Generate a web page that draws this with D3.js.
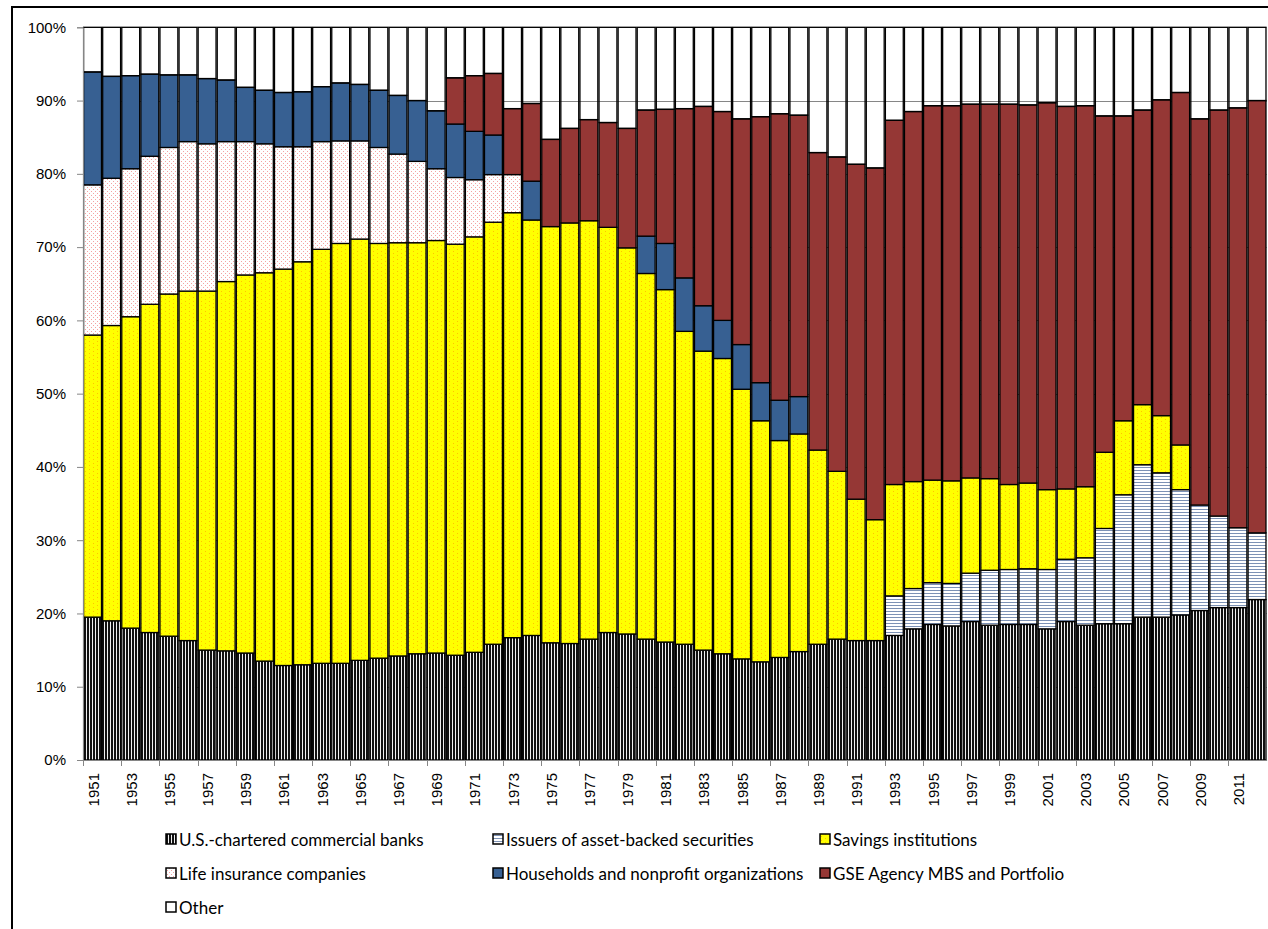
<!DOCTYPE html>
<html>
<head>
<meta charset="utf-8">
<script src="https://cdn.jsdelivr.net/npm/d3@7"></script>
<style>
  body { margin: 0; background: #fff; }
  svg { display: block; font-family: Lato, "Open Sans", sans-serif; }
  .eje text { font-size: 15px; fill: #000; }
  .leyenda text { font-size: 17px; fill: #000; }
</style>
</head>
<body>
<script>
// years (categories)
var years = [1951,1952,1953,1954,1955,1956,1957,1958,1959,1960,
  1961,1962,1963,1964,1965,1966,1967,1968,1969,1970,
  1971,1972,1973,1974,1975,1976,1977,1978,1979,1980,
  1981,1982,1983,1984,1985,1986,1987,1988,1989,1990,
  1991,1992,1993,1994,1995,1996,1997,1998,1999,2000,
  2001,2002,2003,2004,2005,2006,2007,2008,2009,2010,
  2011,2012];

// shares in %, bottom to top
var banks = [19.5,19.0,18.0,17.4,16.9,16.3,15.0,14.9,14.6,13.5,
  12.9,13.0,13.2,13.2,13.6,13.9,14.2,14.5,14.6,14.3,
  14.7,15.8,16.7,17.0,16.0,15.9,16.5,17.4,17.2,16.5,
  16.1,15.8,15.0,14.5,13.8,13.4,14.0,14.8,15.8,16.5,
  16.3,16.3,17.0,17.9,18.5,18.3,18.9,18.4,18.5,18.5,
  17.9,18.9,18.4,18.6,18.6,19.5,19.5,19.8,20.4,20.8,
  20.8,21.9];
var absIssuers = [0,0,0,0,0,0,0,0,0,0,
  0,0,0,0,0,0,0,0,0,0,
  0,0,0,0,0,0,0,0,0,0,
  0,0,0,0,0,0,0,0,0,0,
  0,0,5.4,5.5,5.7,5.8,6.6,7.5,7.5,7.6,
  8.1,8.5,9.2,13.0,17.6,20.8,19.7,17.1,14.4,12.5,
  10.9,9.1];
var savings = [38.5,40.3,42.5,44.8,46.7,47.7,49.0,50.4,51.6,53.0,
  54.1,55.0,56.5,57.3,57.5,56.6,56.4,56.1,56.3,56.1,
  56.7,57.6,58.0,56.7,56.8,57.4,57.1,55.3,52.7,49.9,
  48.1,42.7,40.8,40.3,36.8,32.9,29.6,29.7,26.5,22.9,
  19.3,16.5,15.2,14.6,14.0,14.0,13.0,12.5,11.6,11.7,
  10.9,9.6,9.7,10.4,10.1,8.2,7.8,6.1,0,0,
  0,0];
var lifeIns = [20.5,20.1,20.2,20.2,20.0,20.4,20.1,19.1,18.2,17.6,
  16.7,15.7,14.7,14.0,13.4,13.1,12.1,11.1,9.8,9.1,
  7.8,6.5,5.2,0,0,0,0,0,0,0,
  0,0,0,0,0,0,0,0,0,0,
  0,0,0,0,0,0,0,0,0,0,
  0,0,0,0,0,0,0,0,0,0,
  0,0];
var households = [15.4,13.9,12.7,11.2,9.9,9.1,8.9,8.4,7.4,7.3,
  7.4,7.5,7.5,7.9,7.7,7.8,8.0,8.3,7.9,7.3,
  6.6,5.4,0,5.3,0,0,0,0,0,5.1,
  6.3,7.3,6.2,5.2,6.1,5.2,5.5,5.1,0,0,
  0,0,0,0,0,0,0,0,0,0,
  0,0,0,0,0,0,0,0,0,0,
  0,0];
var gse = [0,0,0,0,0,0,0,0,0,0,
  0,0,0,0,0,0,0,0,0,6.3,
  7.6,8.4,9.0,10.6,11.9,12.9,13.8,14.3,16.3,17.2,
  18.3,23.1,27.2,28.5,30.8,36.3,39.1,38.4,40.6,42.9,
  45.7,48.0,49.7,50.5,51.1,51.2,51.0,51.1,51.9,51.6,
  52.8,52.2,52.0,45.9,41.6,40.2,43.1,48.1,52.7,55.4,
  57.3,59.0];
var other = [6.1,6.7,6.6,6.4,6.5,6.5,7.0,7.2,8.2,8.6,
  8.9,8.8,8.1,7.6,7.8,8.6,9.3,10.0,11.4,6.9,
  6.6,6.3,11.1,10.4,15.3,13.8,12.6,13.0,13.8,11.3,
  11.2,11.1,10.8,11.5,12.5,12.2,11.8,12.0,17.1,17.7,
  18.7,19.2,12.7,11.5,10.7,10.7,10.5,10.5,10.5,10.6,
  10.3,10.8,10.7,12.1,12.1,11.3,9.9,8.9,12.5,11.3,
  11.0,10.0];

var seriesNames = ['U.S.-chartered commercial banks', 'Issuers of asset-backed securities',
  'Savings institutions', 'Life insurance companies', 'Households and nonprofit organizations',
  'GSE Agency MBS and Portfolio', 'Other'];
var yTicks = [0,10,20,30,40,50,60,70,80,90,100];

var anchoSvg = 1268, altoSvg = 929;
var margen = {izq: 83, sup: 27.3, inf: 760};
var paso = 19.09;
var derecha = margen.izq + paso * years.length;

var series = [banks, absIssuers, savings, lifeIns, households, gse, other];
var tabla = years.map(function (y, i) {
  var fila = {year: y};
  seriesNames.forEach(function (n, k) { fila[n] = series[k][i]; });
  return fila;
});

var pila = d3.stack().keys(seriesNames).offset(d3.stackOffsetExpand)(tabla);

var escalaX = d3.scaleBand().domain(years).range([margen.izq, derecha]).padding(0);
var escalaY = d3.scaleLinear().domain([0, 1]).range([margen.inf, margen.sup]);

var svg = d3.select('body').append('svg').attr('width', anchoSvg).attr('height', altoSvg);

// patterns
var defs = svg.append('defs');
var pBanks = defs.append('pattern').attr('id', 'p0').attr('patternUnits', 'userSpaceOnUse')
  .attr('width', 3).attr('height', 3);
pBanks.append('rect').attr('width', 3).attr('height', 3).attr('fill', '#111');
pBanks.append('rect').attr('x', 2).attr('width', 1).attr('height', 3).attr('fill', '#f0f0f0');

var pAbs = defs.append('pattern').attr('id', 'p1').attr('patternUnits', 'userSpaceOnUse')
  .attr('width', 3).attr('height', 3);
pAbs.append('rect').attr('width', 3).attr('height', 3).attr('fill', '#fff');
pAbs.append('rect').attr('y', 2).attr('width', 3).attr('height', 1).attr('fill', '#7d92b5');

var pSav = defs.append('pattern').attr('id', 'p2').attr('patternUnits', 'userSpaceOnUse')
  .attr('width', 8).attr('height', 4);
pSav.append('rect').attr('width', 8).attr('height', 4).attr('fill', '#ffff00');
pSav.append('rect').attr('x', 1).attr('y', 1).attr('width', 1).attr('height', 1).attr('fill', '#ffc400');
pSav.append('rect').attr('x', 5).attr('y', 3).attr('width', 1).attr('height', 1).attr('fill', '#ffc400');

var pLife = defs.append('pattern').attr('id', 'p3').attr('patternUnits', 'userSpaceOnUse')
  .attr('width', 4).attr('height', 4);
pLife.append('rect').attr('width', 4).attr('height', 4).attr('fill', '#fff');
pLife.append('rect').attr('x', 1).attr('y', 1).attr('width', 1).attr('height', 1).attr('fill', '#f4a3a3');
pLife.append('rect').attr('x', 3).attr('y', 3).attr('width', 1).attr('height', 1).attr('fill', '#f4a3a3');

var rellenos = ['url(#p0)', 'url(#p1)', 'url(#p2)', 'url(#p3)', '#376092', '#953735', 'none'];

// outer frame
svg.append('rect').attr('x', 12).attr('y', 7).attr('width', 1400).attr('height', 1000)
  .attr('fill', 'none').attr('stroke', '#000').attr('stroke-width', 2);

// gridlines
svg.append('g').selectAll('line').data(yTicks.slice(1)).enter().append('line')
  .attr('x1', margen.izq).attr('x2', derecha)
  .attr('y1', d => Math.round(escalaY(d / 100)) + 0.5).attr('y2', d => Math.round(escalaY(d / 100)) + 0.5)
  .attr('stroke', '#868686').attr('stroke-width', 1);

// bars
svg.append('g').selectAll('g').data(pila).enter().append('g')
  .attr('fill', (d, i) => rellenos[i])
  .selectAll('rect')
  .data(d => d.filter(s => s[1] - s[0] > 1e-6))
  .enter().append('rect')
  .attr('x', d => escalaX(d.data.year) + 0.6)
  .attr('width', escalaX.bandwidth() - 1.2)
  .attr('y', d => escalaY(d[1]))
  .attr('height', d => escalaY(d[0]) - escalaY(d[1]))
  .attr('stroke', '#000').attr('stroke-width', 1.3);

// y axis
var ejeY = d3.axisLeft(escalaY).tickValues(yTicks.map(d => d / 100))
  .tickFormat(d => Math.round(d * 100) + '%').tickSize(6).tickPadding(11);
var gY = svg.append('g').attr('class', 'eje').attr('transform', 'translate(' + margen.izq + ',0)').call(ejeY);
gY.select('.domain').attr('stroke', '#868686');
gY.selectAll('.tick line').attr('stroke', '#868686');

// x axis
var ejeX = d3.axisBottom(escalaX).tickValues([]).tickSizeOuter(0);
var gX = svg.append('g').attr('class', 'eje').attr('transform', 'translate(0,' + margen.inf + ')').call(ejeX);
gX.select('.domain').attr('stroke', '#868686');
var marcas = years.filter((d, i) => i % 2 === 0);
gX.selectAll('.marca').data(marcas).enter().append('line')
  .attr('x1', d => Math.round(escalaX(d)) + 0.5).attr('x2', d => Math.round(escalaX(d)) + 0.5)
  .attr('y1', 0).attr('y2', 6).attr('stroke', '#868686');
gX.selectAll('.etq').data(marcas).enter().append('text')
  .attr('transform', d => 'translate(' + (escalaX(d) + escalaX.bandwidth() / 2 + 0.5) + ',13) rotate(-90)')
  .attr('text-anchor', 'end').attr('dominant-baseline', 'central')
  .text(d => d);

// legend
var colX = [166, 493, 820], filaY = [839, 873, 907];
var ley = svg.append('g').attr('class', 'leyenda').selectAll('g').data(seriesNames).enter().append('g')
  .attr('transform', (d, i) => 'translate(' + colX[i % 3] + ',' + filaY[Math.floor(i / 3)] + ')');
ley.append('rect').attr('x', 0).attr('y', -5).attr('width', 10).attr('height', 10)
  .attr('fill', (d, i) => rellenos[i] === 'none' ? '#fff' : rellenos[i])
  .attr('stroke', '#000').attr('stroke-width', 1.5);
ley.append('text').attr('x', 13).attr('dominant-baseline', 'central').text(d => d);
</script>
</body>
</html>
